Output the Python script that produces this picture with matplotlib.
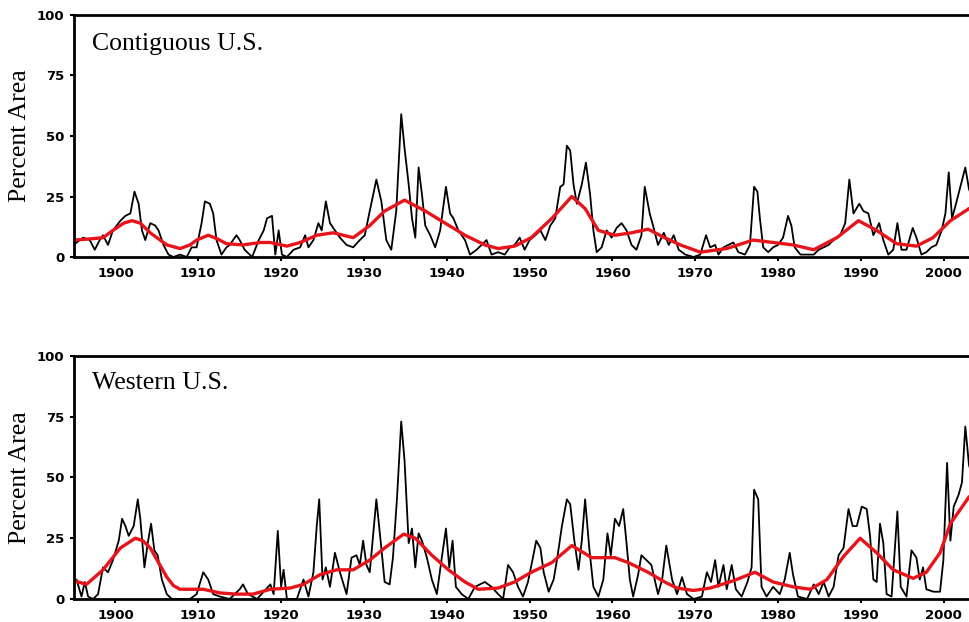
import matplotlib
matplotlib.use("Agg")
import matplotlib.pyplot as plt

# Percent area in severe/extreme drought
conus_years = [1895.0, 1895.3, 1896.1, 1896.9, 1897.5, 1898.1, 1898.5, 1899.1, 1899.7, 1900.6,
               1901.2, 1901.8, 1902.3, 1902.8, 1903.2, 1903.6, 1904.2, 1904.8, 1905.2, 1905.8,
               1906.4, 1907.0, 1907.8, 1908.6, 1909.2, 1909.8, 1910.4, 1910.8, 1911.4, 1911.8,
               1912.2, 1912.8, 1913.4, 1913.8, 1914.6, 1915.0, 1915.6, 1916.5, 1917.3, 1917.9,
               1918.3, 1918.9, 1919.3, 1919.7, 1920.1, 1920.7, 1921.5, 1922.3, 1922.9, 1923.3,
               1923.9, 1924.5, 1924.9, 1925.4, 1925.9, 1926.5, 1927.1, 1927.9, 1928.7, 1929.5,
               1930.1, 1930.7, 1931.5, 1932.1, 1932.7, 1933.3, 1933.9, 1934.5, 1934.9, 1935.4,
               1935.8, 1936.2, 1936.6, 1937.0, 1937.4, 1938.0, 1938.6, 1939.2, 1939.9, 1940.4,
               1940.8, 1941.4, 1942.2, 1942.8, 1943.6, 1944.2, 1944.8, 1945.4, 1946.2, 1947.0,
               1947.6, 1948.2, 1948.8, 1949.4, 1950.0, 1950.7, 1951.3, 1951.9, 1952.5, 1953.1,
               1953.7, 1954.1, 1954.5, 1954.9, 1955.3, 1955.7, 1956.3, 1956.8, 1957.3, 1957.7,
               1958.1, 1958.7, 1959.3, 1959.9, 1960.5, 1961.1, 1961.7, 1962.3, 1962.9, 1963.5,
               1963.9, 1964.5, 1964.9, 1965.5, 1966.2, 1966.8, 1967.4, 1968.0, 1968.8, 1969.8,
               1970.6, 1971.3, 1971.8, 1972.4, 1972.8, 1973.4, 1974.0, 1974.6, 1975.2, 1976.0,
               1976.6, 1977.1, 1977.5, 1977.8, 1978.2, 1978.8, 1979.4, 1980.0, 1980.6, 1981.2,
               1981.6, 1982.0, 1982.7, 1983.5, 1984.3, 1984.9, 1985.5, 1986.1, 1986.7, 1987.5,
               1988.1, 1988.6, 1989.1, 1989.8, 1990.3, 1990.9, 1991.5, 1992.2, 1992.7, 1993.3,
               1993.9, 1994.4, 1994.9, 1995.5, 1996.25, 1996.7, 1997.3, 1997.9, 1998.5, 1999.1,
               1999.75, 2000.2, 2000.6, 2001.0, 2001.4, 2002.0, 2002.6, 2003.05, 2003.5]
conus_pct = [5, 6, 8, 7, 3, 7, 9, 5, 11, 15,
             17, 18, 27, 22, 11, 7, 14, 13, 11, 5,
             1, 0, 1, 0, 4, 4, 14, 23, 22, 18,
             7, 1, 4, 5, 9, 7, 3, 0, 7, 11,
             16, 17, 1, 11, 1, 0, 3, 4, 9, 4,
             7, 14, 11, 23, 14, 11, 8, 5, 4, 7,
             9, 19, 32, 23, 7, 3, 19, 59, 45, 30,
             16, 8, 37, 26, 13, 9, 4, 11, 29, 18,
             16, 11, 7, 1, 3, 5, 7, 1, 2, 1,
             4, 5, 8, 3, 7, 9, 11, 7, 13, 16,
             29, 30, 46, 44, 30, 22, 30, 39, 26, 11,
             2, 4, 11, 8, 12, 14, 11, 5, 3, 9,
             29, 18, 13, 5, 10, 5, 9, 3, 1, 0,
             1, 9, 4, 5, 1, 4, 5, 6, 2, 1,
             5, 29, 27, 16, 4, 2, 4, 5, 8, 17,
             13, 4, 1, 1, 1, 3, 4, 5, 7, 9,
             14, 32, 18, 22, 19, 18, 9, 14, 7, 1,
             3, 14, 3, 3, 12, 8, 1, 2, 4, 5,
             11, 18, 35, 16, 21, 29, 37, 28, 24]

conus_smooth_years = [1895.0, 1897.0, 1898.5, 1899.7, 1901.0, 1902.0, 1903.0, 1904.2, 1905.2, 1906.2,
                      1907.8, 1909.0, 1909.8, 1911.2, 1912.3, 1913.4, 1915.4, 1917.5, 1918.7, 1920.7,
                      1922.3, 1924.3, 1926.3, 1928.7, 1930.7, 1932.5, 1934.9, 1937.4, 1939.8, 1942.2,
                      1944.6, 1946.2, 1948.2, 1950.2, 1952.7, 1955.1, 1956.7, 1958.3, 1960.3, 1962.3,
                      1964.3, 1966.3, 1968.2, 1970.6, 1973.8, 1977.0, 1979.4, 1981.8, 1984.3, 1987.1,
                      1989.7, 1991.9, 1994.3, 1996.7, 1998.7, 2000.8, 2003.05, 2003.5]
conus_smooth_pct = [7, 7.5, 8, 11, 14, 15, 14, 10, 7.5, 5,
                    3.5, 5, 7, 9, 7.5, 5.5, 5, 6, 6, 4.5,
                    6, 9, 10, 8, 13, 19, 23.5, 19, 14, 9,
                    5, 3.5, 4.5, 8, 16, 25, 20, 11, 9, 10,
                    11.5, 8, 5, 2, 3.5, 7, 6, 5, 3, 8,
                    15, 11, 5.5, 4.5, 8, 15, 20, 20.5]

west_years = [1895.0, 1895.3, 1895.9, 1896.3, 1896.7, 1897.3, 1897.9, 1898.5, 1899.1, 1899.7,
              1900.4, 1900.8, 1901.2, 1901.6, 1902.2, 1902.7, 1903.0, 1903.5, 1903.9, 1904.3,
              1904.7, 1905.1, 1905.6, 1906.2, 1906.8, 1907.8, 1909.0, 1909.8, 1910.6, 1911.2,
              1911.8, 1912.6, 1913.8, 1915.0, 1915.4, 1916.0, 1917.1, 1917.9, 1918.7, 1919.1,
              1919.6, 1920.0, 1920.3, 1920.7, 1921.9, 1922.7, 1923.3, 1923.9, 1924.3, 1924.6,
              1925.0, 1925.4, 1925.9, 1926.5, 1927.1, 1927.9, 1928.5, 1929.1, 1929.5, 1929.9,
              1930.3, 1930.7, 1931.5, 1932.1, 1932.5, 1933.1, 1933.5, 1934.0, 1934.5, 1934.9,
              1935.4, 1935.8, 1936.2, 1936.6, 1937.0, 1937.6, 1938.2, 1938.8, 1939.4, 1939.9,
              1940.3, 1940.7, 1941.1, 1941.8, 1942.6, 1943.4, 1944.6, 1945.4, 1946.2, 1946.8,
              1947.4, 1948.0, 1948.6, 1949.2, 1949.8, 1950.4, 1950.8, 1951.3, 1951.7, 1952.3,
              1952.9, 1953.3, 1953.9, 1954.5, 1954.9, 1955.4, 1955.9, 1956.3, 1956.7, 1957.2,
              1957.7, 1958.3, 1958.9, 1959.4, 1959.8, 1960.3, 1960.8, 1961.3, 1961.7, 1962.1,
              1962.5, 1963.1, 1963.5, 1964.1, 1964.7, 1965.1, 1965.5, 1966.0, 1966.5, 1967.2,
              1967.8, 1968.4, 1969.0, 1969.8, 1970.8, 1971.4, 1971.9, 1972.4, 1972.8, 1973.4,
              1973.8, 1974.4, 1974.9, 1975.6, 1976.3, 1976.8, 1977.1, 1977.6, 1978.0, 1978.6,
              1979.4, 1980.2, 1980.8, 1981.4, 1981.8, 1982.4, 1983.5, 1984.3, 1984.9, 1985.5,
              1986.1, 1986.7, 1987.3, 1987.9, 1988.5, 1989.0, 1989.5, 1990.1, 1990.7, 1991.1,
              1991.5, 1991.9, 1992.3, 1992.7, 1993.1, 1993.7, 1994.4, 1994.8, 1995.5, 1996.1,
              1996.7, 1997.1, 1997.5, 1997.9, 1998.75, 1999.55, 1999.95, 2000.4, 2000.8, 2001.2,
              2001.8, 2002.2, 2002.6, 2003.05, 2003.5]
west_pct = [7, 8, 1, 7, 1, 0, 2, 13, 11, 16,
            24, 33, 30, 26, 30, 41, 33, 13, 23, 31,
            20, 18, 8, 2, 0, 0, 0, 2, 11, 8,
            2, 1, 0, 4, 6, 2, 0, 3, 6, 2,
            28, 5, 12, 0, 0, 8, 1, 11, 30, 41,
            8, 13, 5, 19, 11, 2, 17, 18, 14, 24,
            14, 11, 41, 21, 7, 6, 17, 42, 73, 57,
            23, 29, 13, 27, 24, 17, 8, 2, 17, 29,
            13, 24, 5, 2, 0, 5, 7, 5, 2, 0,
            14, 11, 5, 1, 7, 17, 24, 21, 11, 3,
            8, 16, 30, 41, 39, 24, 12, 24, 41, 21,
            5, 1, 8, 27, 18, 33, 30, 37, 23, 8,
            1, 10, 18, 16, 14, 8, 2, 8, 22, 8,
            2, 9, 2, 0, 1, 11, 7, 16, 5, 14,
            4, 14, 4, 1, 7, 13, 45, 41, 5, 1,
            5, 2, 8, 19, 10, 1, 0, 6, 2, 7,
            1, 5, 18, 21, 37, 30, 30, 38, 37, 26,
            8, 7, 31, 23, 2, 1, 36, 5, 1, 20,
            17, 8, 13, 4, 3, 3, 16, 56, 24, 38,
            43, 48, 71, 55, 50]

west_smooth_years = [1895.0, 1896.5, 1898.5, 1900.6, 1902.4, 1903.3, 1904.2, 1905.2, 1906.2, 1907.0,
                     1907.8, 1910.6, 1912.6, 1914.6, 1916.6, 1918.7, 1921.1, 1922.7, 1924.7, 1926.7,
                     1928.7, 1930.7, 1932.5, 1934.8, 1936.2, 1938.2, 1940.2, 1942.2, 1943.8, 1946.2,
                     1948.2, 1950.2, 1952.7, 1955.1, 1957.5, 1960.3, 1961.9, 1964.3, 1966.3, 1967.8,
                     1969.8, 1971.8, 1974.6, 1977.2, 1979.4, 1981.8, 1983.9, 1985.9, 1987.9, 1989.9,
                     1991.9, 1993.9, 1996.3, 1997.9, 1999.55, 2000.8, 2003.05, 2003.5]
west_smooth_pct = [7.5, 6, 12, 21, 25, 24, 21, 15, 9, 5.5,
                   4, 4, 2.5, 2, 2, 4, 4.5, 6, 10, 12,
                   12, 16, 21, 26.7, 25, 18, 12, 7, 4, 4.5,
                   7, 11, 15, 22, 17, 17, 15, 11, 7, 4.5,
                   3.5, 4.5, 7.5, 11, 7, 5, 4, 8, 17.5, 25,
                   19, 12, 8.5, 11, 19, 31, 42, 43]

panel_names = ["Contiguous U.S.", "Western U.S."]
year_ticks = [1900, 1910, 1920, 1930, 1940, 1950, 1960, 1970, 1980, 1990, 2000]
pct_ticks = [0, 25, 50, 75, 100]

fig = plt.figure(figsize=(9.69, 6.22), dpi=100)

# axes run past the right edge of the figure, like the cropped original
ax_top = fig.add_axes([0.0764, 0.5868, 0.9403, 0.3891])
ax_bot = fig.add_axes([0.0764, 0.0370, 0.9403, 0.3907])

series = [
    (ax_top, conus_years, conus_pct, conus_smooth_years, conus_smooth_pct, 0.855),
    (ax_bot, west_years, west_pct, west_smooth_years, west_smooth_pct, 0.864),
]

for i, (ax, yrs, pct, syrs, spct, label_y) in enumerate(series):
    ax.plot(yrs, pct, color="black", linewidth=1.3, solid_joinstyle="round")
    ax.plot(syrs, spct, color="#e8141c", linewidth=2.4, solid_joinstyle="round")

    ax.set_xlim(1895, 2005)
    ax.set_ylim(0, 100)
    ax.set_xticks(year_ticks)
    ax.set_yticks(pct_ticks)
    ax.tick_params(direction="out", length=3, width=1.5, pad=4,
                   labelsize=9.5)
    for lbl in ax.get_xticklabels() + ax.get_yticklabels():
        lbl.set_fontweight("bold")

    for side in ["top", "left", "bottom", "right"]:
        ax.spines[side].set_linewidth(2)

    ax.set_ylabel("Percent Area", family="Liberation Serif", fontsize=18.5)
    ax.yaxis.set_label_coords(-0.047, 0.5)

    ax.text(0.0198, label_y, panel_names[i], transform=ax.transAxes,
            family="Liberation Serif", fontsize=18.5, va="baseline", ha="left")

fig.savefig("out.png", dpi=100)
